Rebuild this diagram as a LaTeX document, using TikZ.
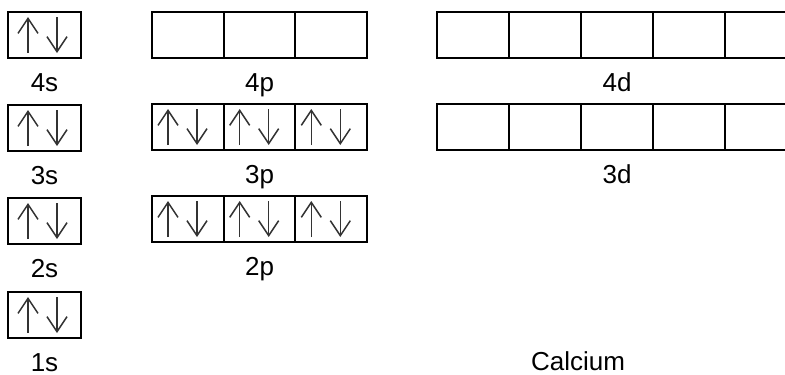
\documentclass[tikz,border=0pt]{standalone}
\usepackage{fontspec}
\setmainfont{Liberation Sans}
\usetikzlibrary{arrows.meta,positioning}

% one pair of electrons in a box
\newcommand{\pairin}[3]{%
  \draw[spin] ([shift={(#2,41)}]#1.north west) -- ([shift={(#2,5)}]#1.north west);
  \draw[spin] ([shift={(#3,5)}]#1.north west) -- ([shift={(#3,41)}]#1.north west);}

\begin{document}
\begin{tikzpicture}[x=1pt,y=-1pt,
orb/.style={draw,line width=2pt,minimum height=46pt,inner sep=0pt,outer sep=0pt,anchor=north west},
spin/.style={line width=1.5pt,black!80,-{Straight Barb[length=15pt,width=20pt,line width=1.5pt]}},
lbl/.style={font=\fontsize{26}{30}\selectfont,anchor=base,inner sep=1pt}]
\useasboundingbox (0,0) rectangle (785,375);

% s orbitals
\foreach \n/\y in {4/12,3/105,2/198,1/292}{
  \node (s\n) [orb,minimum width=73pt] at (8,\y) {};
  \node (ls\n) [lbl] at ([yshift=-33pt]s\n.south) {\n s};
}
\foreach \n in {4,3,2,1}{\pairin{s\n}{20}{49}}

% p orbitals
\foreach \n/\y in {4/12,3/104,2/196}{
  \foreach \k/\x in {1/152,2/223.7,3/295.3}{
    \node (p\n\k) [orb,minimum width=71.7pt] at (\x,\y) {};
  }
  \node (lp\n) [lbl] at ([yshift=-33pt]p\n2.south) {\n p};
}
\foreach \n in {3,2}{
  \foreach \k in {1,2,3}{\pairin{p\n\k}{16}{45}}
}

% d orbitals
\foreach \n/\y in {4/12,3/104}{
  \foreach \k/\x in {1/437,2/509,3/581,4/653,5/725}{
    \node (d\n\k) [orb,minimum width=72pt] at (\x,\y) {};
  }
  \node (ld\n) [lbl] at ([yshift=-33pt]d\n3.south) {\n d};
}

\node (elem) [lbl] at (578,370) {Calcium};
\end{tikzpicture}
\end{document}
